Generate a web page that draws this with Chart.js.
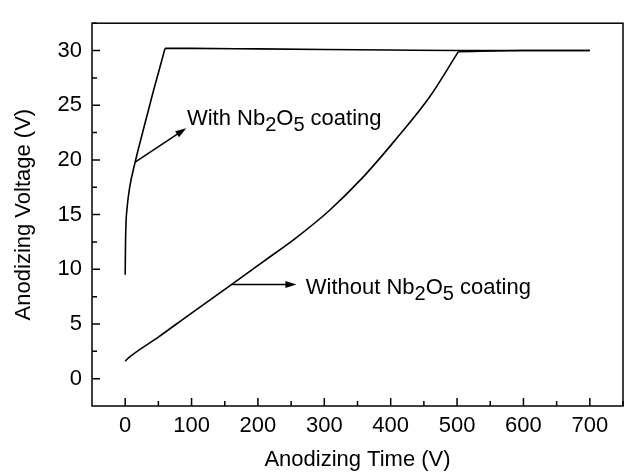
<!DOCTYPE html>
<html>
<head>
<meta charset="utf-8">
<script src="https://cdn.jsdelivr.net/npm/chart.js@4.4.0/dist/chart.umd.min.js"></script>
<style>
  html, body { margin: 0; padding: 0; background: #fff; }
  #wrap { width: 630px; height: 473px; }
</style>
</head>
<body>
<div id="wrap"><canvas id="anodChart" width="630" height="473"></canvas></div>
<script>
// values: each curve = rising part + plateau at 30 V
const withRiseTime = [0, 0.5, 1.2, 2.5, 6.5, 15, 27.5, 42.5, 52, 60];
const withRiseVoltage = [9.5, 12.4, 14.2, 15.4, 17.4, 19.8, 22.8, 26.3, 28.4, 30.2];
const withFlatTime = [60, 100, 200, 300, 400, 500, 600, 700];
const withFlatVoltage = [30.2, 30.2, 30.15, 30.1, 30.05, 30.0, 30.0, 30.0];
const withoutRiseTime = [0, 5, 50, 100, 158, 208, 258, 308, 358, 408, 458, 502];
const withoutRiseVoltage = [1.6, 1.9, 3.8, 6.0, 8.5, 10.7, 12.9, 15.4, 18.4, 21.9, 25.7, 29.9];
const withoutFlatTime = [502, 600, 700];
const withoutFlatVoltage = [29.9, 30.0, 30.0];
const xTickLabels = [0, 100, 200, 300, 400, 500, 600, 700];
const yTickLabels = [0, 5, 10, 15, 20, 25, 30];

// arrow labels, in data units: [fromX, fromY, toX, toY, textX, textBaselineY]
const withNote = [15, 19.8, 92, 22.9, 93, 23.2];
const withoutNote = [160, 8.6, 258, 8.6, 272, 7.75];

const fontFamily = '"Liberation Sans", Arial, Helvetica, sans-serif';

function toPts(xs, ys) {
  return xs.map((x, i) => ({ x: x, y: ys[i] }));
}

function curve(label, xs, ys) {
  return {
    label: label,
    data: toPts(xs, ys),
    showLine: true,
    borderColor: '#000',
    borderWidth: 1.6,
    pointRadius: 0,
    cubicInterpolationMode: 'monotone'
  };
}

// frame, inward ticks and the arrow notes
const framePlugin = {
  id: 'frame',
  afterDraw(chart) {
    const ctx = chart.ctx;
    const a = chart.chartArea;
    const xs = chart.scales.x;
    const ys = chart.scales.y;
    ctx.save();
    ctx.strokeStyle = '#000';
    ctx.lineWidth = 1.5;
    ctx.strokeRect(a.left, a.top, a.right - a.left, a.bottom - a.top);

    ctx.beginPath();
    xTickLabels.forEach(v => {
      const px = xs.getPixelForValue(v);
      ctx.moveTo(px, a.bottom); ctx.lineTo(px, a.bottom - 8);
      const mx = xs.getPixelForValue(v + 50);
      ctx.moveTo(mx, a.bottom); ctx.lineTo(mx, a.bottom - 5);
    });
    yTickLabels.forEach(v => {
      const py = ys.getPixelForValue(v);
      ctx.moveTo(a.left, py); ctx.lineTo(a.left + 8, py);
      const my = ys.getPixelForValue(v + 2.5);
      ctx.moveTo(a.left, my); ctx.lineTo(a.left + 5, my);
    });
    ctx.stroke();

    drawNote(ctx, xs, ys, withNote, 'With ');
    drawNote(ctx, xs, ys, withoutNote, 'Without ');
    ctx.restore();
  }
};

function drawNote(ctx, xs, ys, n, lead) {
  const x1 = xs.getPixelForValue(n[0]), y1 = ys.getPixelForValue(n[1]);
  const x2 = xs.getPixelForValue(n[2]), y2 = ys.getPixelForValue(n[3]);
  const ang = Math.atan2(y2 - y1, x2 - x1);
  ctx.lineWidth = 1.5;
  ctx.beginPath();
  ctx.moveTo(x1, y1);
  ctx.lineTo(x2 - 8 * Math.cos(ang), y2 - 8 * Math.sin(ang));
  ctx.stroke();
  ctx.beginPath();
  ctx.moveTo(x2, y2);
  ctx.lineTo(x2 - 11 * Math.cos(ang) + 3.5 * Math.sin(ang), y2 - 11 * Math.sin(ang) - 3.5 * Math.cos(ang));
  ctx.lineTo(x2 - 11 * Math.cos(ang) - 3.5 * Math.sin(ang), y2 - 11 * Math.sin(ang) + 3.5 * Math.cos(ang));
  ctx.closePath();
  ctx.fillStyle = '#000';
  ctx.fill();

  // text with subscripts
  let tx = xs.getPixelForValue(n[4]);
  const ty = ys.getPixelForValue(n[5]);
  const parts = [[lead + 'Nb', false], ['2', true], ['O', false], ['5', true], [' coating', false]];
  ctx.textBaseline = 'alphabetic';
  ctx.textAlign = 'left';
  parts.forEach(p => {
    ctx.font = (p[1] ? '20px ' : '22px ') + fontFamily;
    ctx.fillText(p[0], tx, p[1] ? ty + 6 : ty);
    tx += ctx.measureText(p[0]).width;
  });
}

const ctx = document.getElementById('anodChart').getContext('2d');
new Chart(ctx, {
  type: 'scatter',
  data: {
    datasets: [
      curve('With Nb2O5 coating', withRiseTime, withRiseVoltage),
      curve('With Nb2O5 coating (plateau)', withFlatTime, withFlatVoltage),
      curve('Without Nb2O5 coating', withoutRiseTime, withoutRiseVoltage),
      curve('Without Nb2O5 coating (plateau)', withoutFlatTime, withoutFlatVoltage)
    ]
  },
  options: {
    responsive: false,
    animation: false,
    devicePixelRatio: 1,
    layout: { padding: { left: 0, right: 7, top: 11, bottom: 0 } },
    plugins: {
      legend: { display: false },
      tooltip: { enabled: false }
    },
    scales: {
      x: {
        type: 'linear',
        min: -50,
        max: 750,
        afterBuildTicks: s => { s.ticks = xTickLabels.map(v => ({ value: v })); },
        afterFit: s => { s.height = 67; },
        grid: { display: false, drawTicks: false },
        border: { display: false },
        ticks: { color: '#000', padding: 7, font: { family: fontFamily, size: 22 } },
        title: {
          display: true,
          text: 'Anodizing Time (V)',
          color: '#000',
          font: { family: fontFamily, size: 22 },
          padding: { top: 0, bottom: 0 }
        }
      },
      y: {
        type: 'linear',
        min: -2.5,
        max: 32.5,
        afterBuildTicks: s => { s.ticks = yTickLabels.map(v => ({ value: v })); },
        afterFit: s => { s.width = 92; },
        grid: { display: false, drawTicks: false },
        border: { display: false },
        ticks: { color: '#000', padding: 10, font: { family: fontFamily, size: 22 } },
        title: {
          display: true,
          text: 'Anodizing Voltage (V)',
          color: '#000',
          font: { family: fontFamily, size: 22 },
          padding: { top: 11, bottom: 0 }
        }
      }
    }
  },
  plugins: [framePlugin]
});
</script>
</body>
</html>
